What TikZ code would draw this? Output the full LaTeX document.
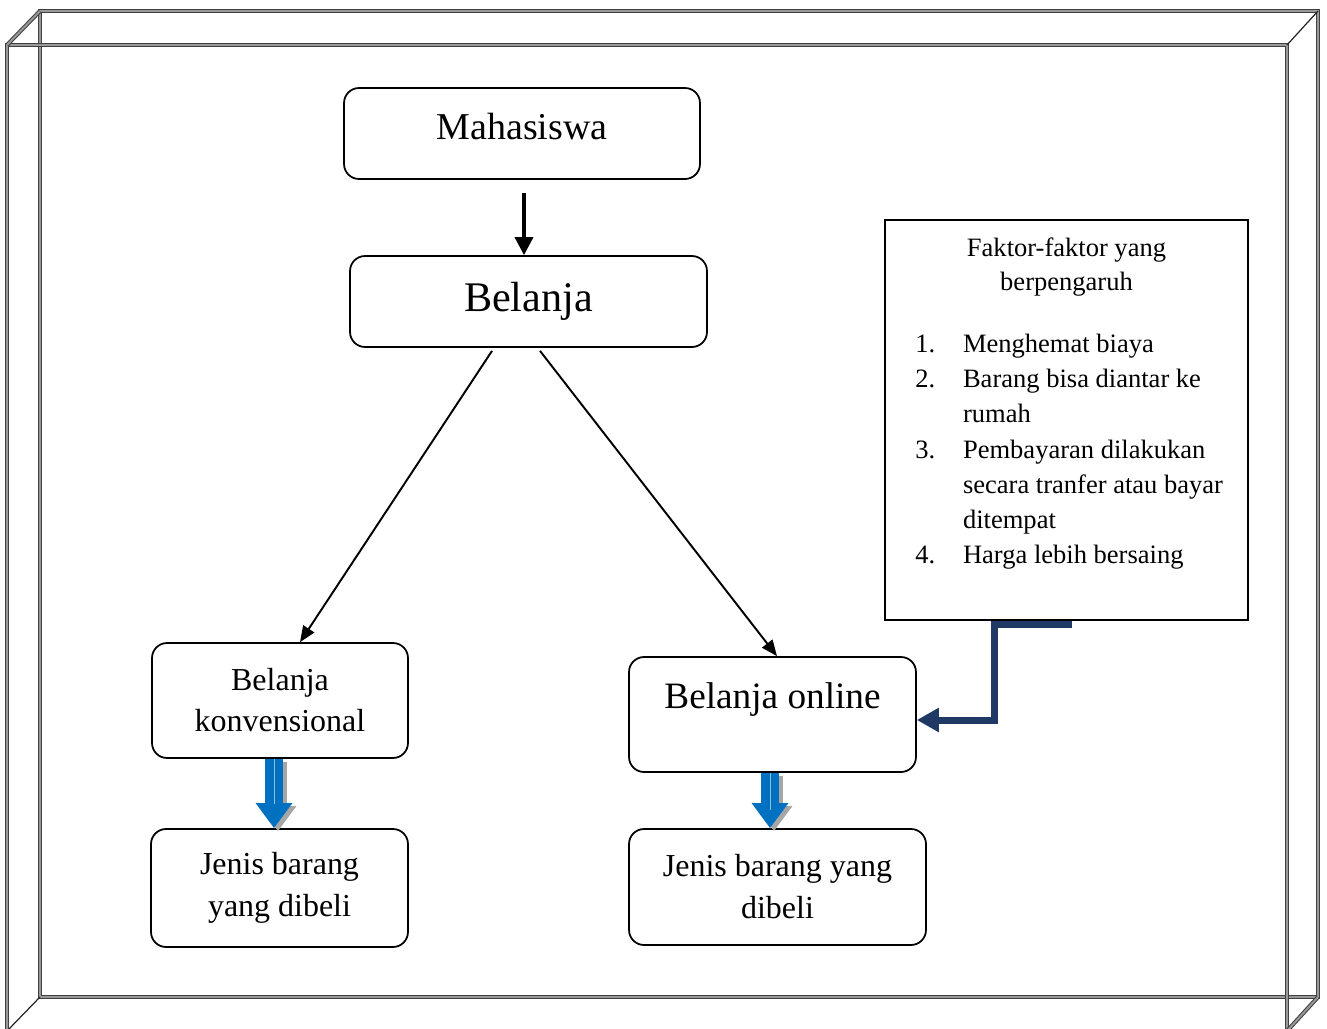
\documentclass[tikz,border=0pt]{standalone}
\usepackage{fontspec}
\setmainfont{Liberation Serif}
\usetikzlibrary{
    arrows.meta,
    positioning
}
\definecolor{birublok}{RGB}{0,112,192}
\definecolor{birutua}{RGB}{31,56,100}
\tikzset{
    kotak/.style={draw, rounded corners=0.3cm, line width=1pt, align=center, inner sep=0pt},
    kotakfaktor/.style={draw, line width=1pt, inner sep=0pt, minimum width=7.26cm, minimum height=8cm},
    teksfaktor/.style={inner sep=0pt, font={\fontsize{15.1pt}{20pt}\selectfont}},
    bingkai/.style={draw=black!75, double=black!40, double distance=1.1pt, line width=0.6pt},
    garistipis/.style={draw=black!85, line width=0.7pt},
    panahtebal/.style={-{Triangle[length=0.36cm,width=0.36cm]}, line width=2pt},
    panahtipis/.style={-{Triangle[length=0.32cm,width=0.26cm]}, line width=1.1pt},
    panahbiru/.style={-{Triangle[length=0.5cm,width=0.7cm]}, line width=0.36cm, draw=birublok},
    bayangan/.style={-{Triangle[length=0.5cm,width=0.7cm]}, line width=0.36cm, draw=black!35,
        transform canvas={shift={(0.08cm,-0.06cm)}}},
    sorotan/.style={line width=0.5pt, draw=birublok!45!white},
    panahsiku/.style={-{Triangle[length=0.44cm,width=0.46cm]}, line width=0.14cm, draw=birutua}
}

\begin{document}
\begin{tikzpicture}[x=0.02cm, y=-0.02cm]
    \useasboundingbox (0,0) rectangle (1327,1028);
    \clip (0,0) rectangle (1327,1028);

    \draw[bingkai] (40,11) rectangle (1318,997);
    \draw[bingkai] (7,45) rectangle (1287,1031);
    \draw[bingkai] (40,11) -- (7,45);
    \draw[garistipis] (1318,11) -- (1287,45);
    \draw[garistipis] (40,997) -- (7,1031);
    \draw[bingkai] (1318,997) -- (1287,1031);

    \node[kotak, minimum width=7.12cm, minimum height=1.82cm, text depth=0.3cm,
        font={\fontsize{21.6pt}{26pt}\selectfont}] (mahasiswa) at (522,133.5) {Mahasiswa};
    \node[kotak, minimum width=7.14cm, minimum height=1.82cm,
        font={\fontsize{24pt}{29pt}\selectfont}] (belanja) at (528.5,301.5) {Belanja};
    \node[kotak, minimum width=5.12cm, minimum height=2.3cm,
        font={\fontsize{18.2pt}{23.3pt}\selectfont}] (konvensional) at (280,700.5) {Belanja\\konvensional};
    \node[kotak, minimum width=5.74cm, minimum height=2.3cm, text depth=0.76cm,
        font={\fontsize{21.2pt}{26pt}\selectfont}] (online) at (772.5,714.5) {Belanja online};
    \node[kotak, minimum width=5.14cm, minimum height=2.36cm,
        font={\fontsize{18.2pt}{23.9pt}\selectfont}] (jeniskiri) at (279.5,888) {Jenis barang\\yang dibeli};
    \node[kotak, minimum width=5.94cm, minimum height=2.32cm,
        font={\fontsize{18.2pt}{23.9pt}\selectfont}] (jeniskanan) at (777.5,887) {Jenis barang yang\\dibeli};

    \node[kotakfaktor] (faktor) at (1066.5,420) {};
    \node[teksfaktor, align=center, anchor=base, font={\fontsize{15.1pt}{19pt}\selectfont}]
        (judulfaktor) at (1066.5,290) {Faktor-faktor yang\\berpengaruh};
    \node[teksfaktor, anchor=base west] (daftarfaktor) at (915,352.7) {%
        \begin{tabular}[t]{@{}p{0.954cm}@{}l@{}}
            1. & Menghemat biaya\\
            2. & Barang bisa diantar ke\\
               & rumah\\
            3. & Pembayaran dilakukan\\
               & secara tranfer atau bayar\\
               & ditempat\\
            4. & Harga lebih bersaing
        \end{tabular}};

    \draw[panahtebal] ([xshift=0.04cm,yshift=-0.26cm]mahasiswa.south) -- ([xshift=0.04cm]mahasiswa.south |- belanja.north);
    \draw[panahtipis] ([xshift=-0.73cm,yshift=-0.06cm]belanja.south) -- ([xshift=0.4cm]konvensional.north);
    \draw[panahtipis] ([xshift=0.23cm,yshift=-0.06cm]belanja.south) -- ([xshift=0.09cm]online.north);

    \draw[bayangan] ([xshift=-0.12cm]konvensional.south) -- ([xshift=-0.12cm]konvensional.south |- jeniskiri.north);
    \draw[panahbiru] ([xshift=-0.12cm]konvensional.south) -- ([xshift=-0.12cm]konvensional.south |- jeniskiri.north);
    \draw[sorotan] ([xshift=-0.12cm]konvensional.south) -- ++(0,-0.9cm);
    \draw[bayangan] ([xshift=-0.05cm]online.south) -- ([xshift=-0.05cm]online.south |- jeniskanan.north);
    \draw[panahbiru] ([xshift=-0.05cm]online.south) -- ([xshift=-0.05cm]online.south |- jeniskanan.north);
    \draw[sorotan] ([xshift=-0.05cm]online.south) -- ++(0,-0.75cm);

    \draw[panahsiku] ([xshift=0.11cm,yshift=-0.07cm]faktor.south) -- ++(-1.55cm,0) |- ([yshift=-0.11cm]online.east);
\end{tikzpicture}
\end{document}
